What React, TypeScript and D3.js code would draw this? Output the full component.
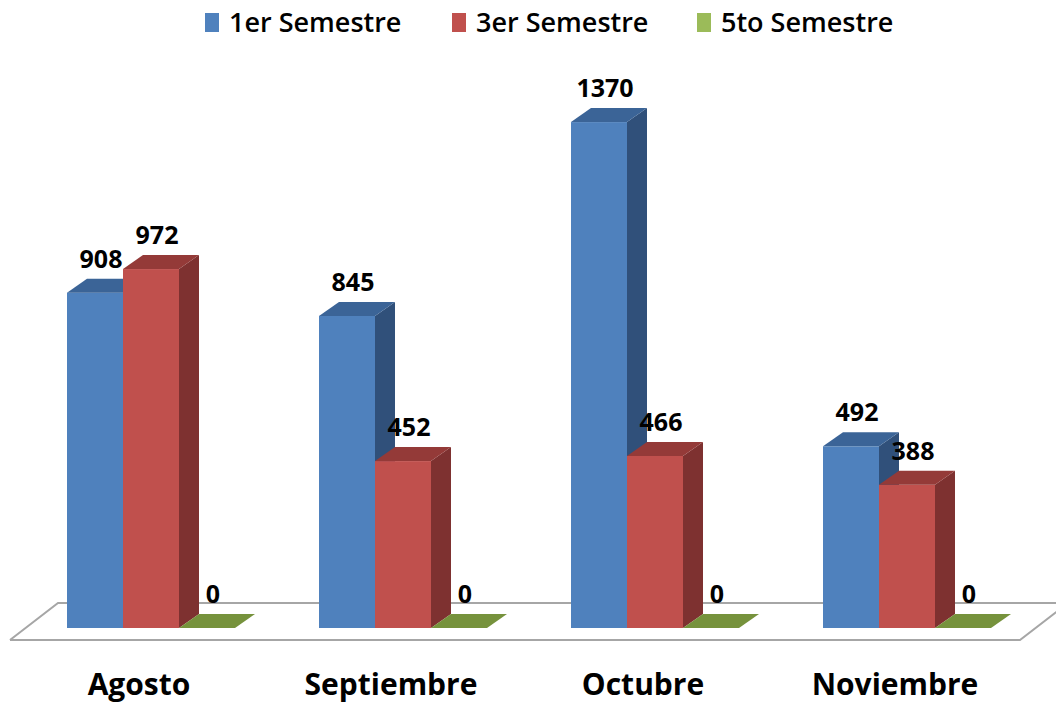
import React from "react";
import * as d3 from "d3";

const categories = ["Agosto", "Septiembre", "Octubre", "Noviembre"];
const seriesNames = ["1er Semestre", "3er Semestre", "5to Semestre"];
const sem1 = [908, 845, 1370, 492];
const sem3 = [972, 452, 466, 388];
const sem5 = [0, 0, 0, 0];

const W = 1056;
const H = 704;
const FONT = "'Open Sans', 'DejaVu Sans', sans-serif";

const palette = [
  { front: "#4F81BD", side: "#30507A", top: "#3B6497", legend: "#4F81BD" },
  { front: "#C0504D", side: "#7E3130", top: "#943A38", legend: "#C0504D" },
  { front: "#9BBB59", side: "#5F7A2E", top: "#76923C", legend: "#9BBB59" },
];

export default function App() {
  const values = [sem1, sem3, sem5];
  const baseY = 628;
  const dx = 20;
  const dy = -14;
  const y = d3.scaleLinear().domain([0, 1400]).range([baseY, baseY - 517]);
  const x0 = d3.scaleBand<string>().domain(categories).range([25, 1033]).paddingInner(1 / 3).paddingOuter(1 / 6);
  const x1 = d3.scaleBand<string>().domain(seriesNames).range([0, x0.bandwidth()]).padding(0);

  const floorBackY = 603;
  const floorFrontY = 640;
  const floorPath = `M${10},${floorFrontY} L${58},${floorBackY} L${1110},${floorBackY} M${10},${floorFrontY} L${1020},${floorFrontY} L${1068},${floorBackY}`;

  const legendX = [205, 452, 697];

  const bars: React.ReactNode[] = [];
  const labels: React.ReactNode[] = [];
  categories.forEach((c, ci) => {
    seriesNames.forEach((s, si) => {
      const v = values[si][ci];
      const xl = (x0(c) ?? 0) + (x1(s) ?? 0);
      const w = x1.bandwidth();
      const xr = xl + w;
      const yt = y(v);
      const col = palette[si];
      const key = `${ci}-${si}`;
      if (v > 0) {
        bars.push(
          <g key={key}>
            <rect x={xl} y={yt} width={w} height={baseY - yt} fill={col.front} />
            <path d={`M${xr},${baseY} L${xr + dx},${baseY + dy} L${xr + dx},${yt + dy} L${xr},${yt} Z`} fill={col.side} />
            <path d={`M${xl},${yt} L${xl + dx},${yt + dy} L${xr + dx},${yt + dy} L${xr},${yt} Z`} fill={col.top} />
          </g>
        );
      } else {
        bars.push(
          <path key={key} d={`M${xl},${baseY} L${xl + dx},${baseY + dy} L${xr + dx},${baseY + dy} L${xr},${baseY} Z`} fill={col.top} />
        );
      }
      labels.push(
        <text key={"l" + key} x={xl + w / 2 + 6} y={yt - 25} textAnchor="middle" fontFamily={FONT} fontWeight={700} fontSize={25} fill="#000">
          {v}
        </text>
      );
    });
  });

  return (
    <svg width={W} height={H} style={{ position: "absolute", left: 0, top: 0, background: "#fff" }}>
      <rect width={W} height={H} fill="#fff" />
      <path d={floorPath} fill="none" stroke="#A6A6A6" strokeWidth={2} />
      {bars}
      {labels}
      {categories.map((c) => (
        <text key={c} x={(x0(c) ?? 0) + x0.bandwidth() / 2 - 12} y={695} textAnchor="middle" fontFamily={FONT} fontWeight={700} fontSize={30} fill="#000">
          {c}
        </text>
      ))}
      {seriesNames.map((s, i) => (
        <g key={s}>
          <rect x={legendX[i]} y={13} width={14} height={19} fill={palette[i].legend} />
          <text x={legendX[i] + 24} y={32} fontFamily={FONT} fontWeight={600} fontSize={27} fill="#000">
            {s}
          </text>
        </g>
      ))}
    </svg>
  );
}
